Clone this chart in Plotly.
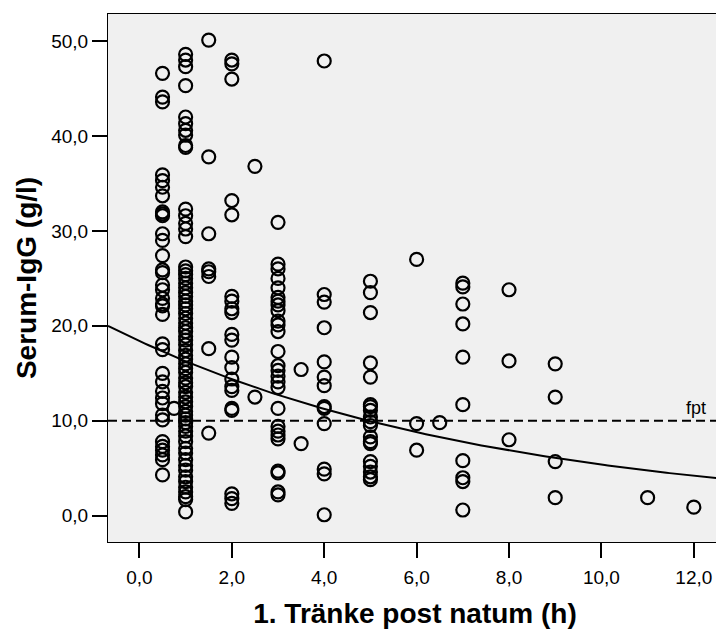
import numpy as np
import plotly.graph_objects as go

# ---- data ----
x_05 = [46.6, 44.1, 43.6, 35.9, 35.3, 34.6, 33.7, 32.0, 31.8, 31.6, 29.7, 29.0, 27.4, 25.9, 25.6,
        24.3, 23.8, 22.9, 22.3, 22.1, 21.2, 18.1, 17.5, 15.0, 14.1, 13.1, 12.4, 11.8, 10.6, 10.1,
        7.8, 7.3, 6.9, 6.4, 5.9, 4.3]
x_075 = [11.3]
x_1 = [48.6, 48.0, 47.3, 45.3, 42.0, 41.3, 40.6, 40.1, 39.0, 38.8, 32.3, 31.6, 30.8, 30.2, 29.4,
       26.2, 25.8, 25.4, 25.0, 24.5, 24.0, 23.5, 23.1, 22.6, 22.2, 21.8, 21.3, 20.8, 20.3, 19.8,
       19.4, 18.9, 18.5, 18.0, 17.4, 16.9, 16.5, 16.0, 15.5, 15.1, 14.5, 14.0, 13.6, 13.0, 12.5,
       12.0, 11.5, 11.0, 10.6, 10.2, 9.8, 9.4, 8.9, 8.4, 7.8, 7.1, 6.6, 5.9, 5.3, 4.8, 4.1,
       3.6, 3.0, 2.5, 2.0, 1.7, 0.4]
x_15 = [50.1, 37.8, 29.7, 26.0, 25.7, 25.2, 17.6, 8.7]
x_2 = [48.0, 47.6, 46.0, 33.2, 31.7, 23.1, 22.6, 21.8, 21.4, 19.1, 18.5, 16.7, 15.6, 14.4, 13.6,
       13.2, 11.3, 11.1, 2.3, 1.8, 1.3]
x_25 = [36.8, 12.5]
x_3 = [30.9, 26.5, 26.0, 25.0, 24.0, 23.0, 22.6, 22.2, 21.6, 20.5, 20.1, 19.4, 17.3, 15.8, 15.3,
       14.7, 14.1, 13.5, 11.3, 9.4, 8.9, 8.5, 8.1, 4.7, 4.5, 2.5, 2.2]
x_35 = [15.4, 7.6]
x_4 = [47.9, 23.3, 22.5, 19.8, 16.2, 14.6, 13.7, 11.5, 11.3, 9.7, 4.9, 4.4, 0.1]
x_5 = [24.7, 23.5, 21.4, 16.1, 14.6, 11.7, 11.5, 11.1, 10.4, 9.9, 9.5, 8.3, 7.8, 7.6, 5.7, 5.2,
       4.6, 4.1, 3.8]
x_6 = [27.0, 9.7, 6.9]
x_65 = [9.8]
x_7 = [24.5, 24.1, 22.3, 20.2, 16.7, 11.7, 5.8, 4.0, 3.6, 0.6]
x_8 = [23.8, 16.3, 8.0]
x_9 = [16.0, 12.5, 5.7, 1.9]
x_11 = [1.9]
x_12 = [0.9]

groups = [(0.5, x_05), (0.75, x_075), (1.0, x_1), (1.5, x_15), (2.0, x_2), (2.5, x_25),
          (3.0, x_3), (3.5, x_35), (4.0, x_4), (5.0, x_5), (6.0, x_6), (6.5, x_65),
          (7.0, x_7), (8.0, x_8), (9.0, x_9), (11.0, x_11), (12.0, x_12)]

# exponential fit shown in the chart: y = fit_a * exp(fit_b * x)
fit_a = 18.4
fit_b = -0.123
threshold = 10.0
threshold_label = "fpt"

x_range = [-0.68, 12.61]
y_range = [-2.77, 52.85]
x_ticks = [0, 2, 4, 6, 8, 10, 12]
y_ticks = [0, 10, 20, 30, 40, 50]

xs, ys = [], []
for xv, vals in groups:
    xs += [xv] * len(vals)
    ys += vals

FONT = "Liberation Sans, Arial"

fig = go.Figure()
fig.add_trace(go.Scatter(
    x=xs, y=ys, mode="markers",
    marker=dict(symbol="circle-open", size=13, color="black", line=dict(width=2.2, color="black")),
    showlegend=False, hoverinfo="x+y"))

curve_x = np.linspace(x_range[0], x_range[1], 200)
fig.add_trace(go.Scatter(x=curve_x, y=fit_a * np.exp(fit_b * curve_x), mode="lines",
                         line=dict(color="black", width=2), showlegend=False))

fig.add_shape(type="line", xref="paper", yref="y", x0=0, x1=1, y0=threshold, y1=threshold,
              line=dict(color="black", width=2, dash="9px,5px"))
fig.add_annotation(x=12.05, y=threshold, xref="x", yref="y", text=threshold_label,
                   showarrow=False, yanchor="bottom", yshift=1,
                   font=dict(family=FONT, size=18, color="black"))

axis_common = dict(showline=True, mirror=True, linecolor="black", linewidth=1,
                   ticks="outside", ticklen=15, tickwidth=2, tickcolor="black",
                   showgrid=False, zeroline=False, tickformat=".1f", automargin=False,
                   tickfont=dict(family=FONT, size=19, color="black"))

fig.update_xaxes(range=x_range, tickvals=x_ticks, ticklabelstandoff=3, **axis_common,
                 title=dict(text="<b>1. Tränke post natum (h)</b>", standoff=16,
                            font=dict(family=FONT, size=28, color="black")))
fig.update_yaxes(range=y_range, tickvals=y_ticks, **axis_common,
                 title=dict(text="<b>Serum-IgG (g/l)</b>", standoff=6,
                            font=dict(family=FONT, size=28, color="black")))

# the page places the figure 8px from the top-left corner; margins compensate for it
fig.update_layout(width=716, height=622, separators=",.",
                  margin=dict(l=100, r=2, t=6, b=88),
                  plot_bgcolor="#f0f0f0", paper_bgcolor="white")

fig.write_html("out.html")
